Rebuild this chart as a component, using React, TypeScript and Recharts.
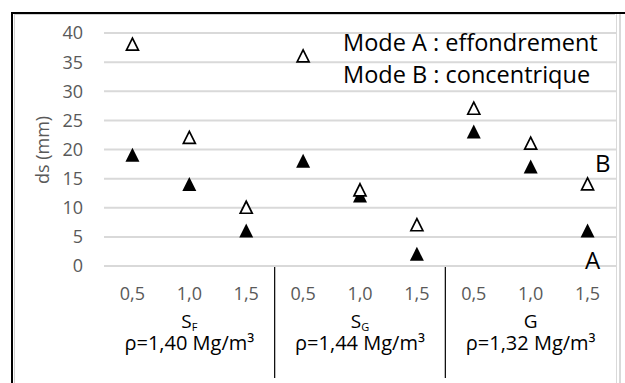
import { CartesianGrid, ComposedChart, Scatter, XAxis, YAxis } from "recharts";

const categories = ["0,5", "1,0", "1,5", "0,5", "1,0", "1,5", "0,5", "1,0", "1,5"];
// Mode A : effondrement (filled), Mode B : concentrique (hollow)
const modeA = [19, 14, 6, 18, 12, 2, 23, 17, 6];
const modeB = [38, 22, 10, 36, 13, 7, 27, 21, 14];
const groupNames = [["S", "F"], ["S", "G"], ["G", ""]];
const groupDensity = ["ρ=1,40 Mg/m³", "ρ=1,44 Mg/m³", "ρ=1,32 Mg/m³"];
const yTicks = [0, 5, 10, 15, 20, 25, 30, 35, 40];

const data = categories.map((c, i) => ({ key: i, label: c, modeA: modeA[i], modeB: modeB[i] }));

const W = 625;
const H = 383;
const margin = { top: 33, right: 9, bottom: 0, left: 0 };
const yAxisWidth = 104;
const plotBottom = 266;
const bandWidth = (W - margin.left - margin.right - yAxisWidth) / categories.length;
const FONT = "'Open Sans', sans-serif";

const FilledTriangle = (p: any) => (
  <path d={`M${p.cx},${p.cy - 7.5} L${p.cx + 7},${p.cy + 6.5} L${p.cx - 7},${p.cy + 6.5} Z`} fill="#000" />
);

const HollowTriangle = (p: any) => (
  <path
    d={`M${p.cx},${p.cy - 6.5} L${p.cx + 6},${p.cy + 5.5} L${p.cx - 6},${p.cy + 5.5} Z`}
    fill="#fff"
    stroke="#000"
    strokeWidth={1.7}
  />
);

const CategoryTick = (p: any) => {
  const i = p.payload.index;
  const g = Math.floor(i / 3);
  const x = p.x;
  const y = plotBottom;
  return (
    <g>
      <text x={x} y={y + 34} textAnchor="middle" fontSize={18} fill="#595959" fontFamily={FONT}>
        {categories[i]}
      </text>
      {i % 3 === 1 && (
        <>
          <text x={x} y={y + 62} textAnchor="middle" fontSize={19} fill="#000" fontFamily={FONT}>
            {groupNames[g][0]}
            {groupNames[g][1] && (
              <tspan fontSize={11} dy={3}>
                {groupNames[g][1]}
              </tspan>
            )}
          </text>
          <text x={x} y={y + 84} textAnchor="middle" fontSize={20} fill="#000" fontFamily={FONT}>
            {groupDensity[g]}
          </text>
        </>
      )}
      {i % 3 === 2 && i < categories.length - 1 && (
        <line x1={x + bandWidth / 2} x2={x + bandWidth / 2} y1={y + 1} y2={y + 112} stroke="#000" strokeWidth={1.2} />
      )}
    </g>
  );
};

export default function App() {
  return (
    <div style={{ position: "absolute", left: 0, top: 0, width: W, height: H, background: "#fff", overflow: "hidden" }}>
      {/* frame */}
      <div style={{ position: "absolute", left: 11, top: 12, width: 2, height: H, background: "#000" }} />
      <div style={{ position: "absolute", left: 11, top: 12, width: W, height: 2, background: "#000" }} />
      <div style={{ position: "absolute", left: 14, top: 14, width: 1, height: H, background: "#d0d0d0" }} />
      <div style={{ position: "absolute", left: 14, top: 14, width: 601, height: 1, background: "#d0d0d0" }} />
      <div style={{ position: "absolute", left: 616, top: 14, width: 1, height: H, background: "#d9d9d9" }} />
      <div style={{ position: "absolute", left: 619, top: 14, width: 2, height: H, background: "#d9d9d9" }} />

      <div style={{ position: "absolute", left: 0, top: 0 }}>
        <ComposedChart width={W} height={H} data={data} margin={margin}>
          <CartesianGrid vertical={false} stroke="#d9d9d9" strokeWidth={2} />
          <XAxis
            dataKey="key"
            type="category"
            height={H - plotBottom}
            padding={{ left: bandWidth / 2, right: bandWidth / 2 }}
            axisLine={false}
            tickLine={false}
            tickSize={0}
            tickMargin={0}
            interval={0}
            tick={<CategoryTick />}
          />
          <YAxis
            domain={[0, 40]}
            ticks={yTicks}
            width={yAxisWidth}
            axisLine={false}
            tickLine={false}
            tickSize={0}
            tickMargin={21}
            interval={0}
            tick={{ fontSize: 18, fill: "#595959", fontFamily: FONT }}
          />
          <Scatter dataKey="modeA" shape={FilledTriangle} isAnimationActive={false} />
          <Scatter dataKey="modeB" shape={HollowTriangle} isAnimationActive={false} />
        </ComposedChart>
      </div>

      <svg width={W} height={H} style={{ position: "absolute", left: 0, top: 0, pointerEvents: "none" }}>
        <text
          x={0}
          y={0}
          transform="translate(49,150) rotate(-90)"
          textAnchor="middle"
          fontSize={18}
          fill="#595959"
          fontFamily={FONT}
        >
          ds (mm)
        </text>
        <text x={343} y={51} fontSize={23.5} fill="#000" fontFamily={FONT}>
          Mode A : effondrement
        </text>
        <text x={343} y={83} fontSize={23.5} fill="#000" fontFamily={FONT}>
          Mode B : concentrique
        </text>
        <text x={595} y={172} fontSize={24} fill="#000" fontFamily={FONT}>
          B
        </text>
        <text x={585} y={269} fontSize={24} fill="#000" fontFamily={FONT}>
          A
        </text>
      </svg>
    </div>
  );
}
